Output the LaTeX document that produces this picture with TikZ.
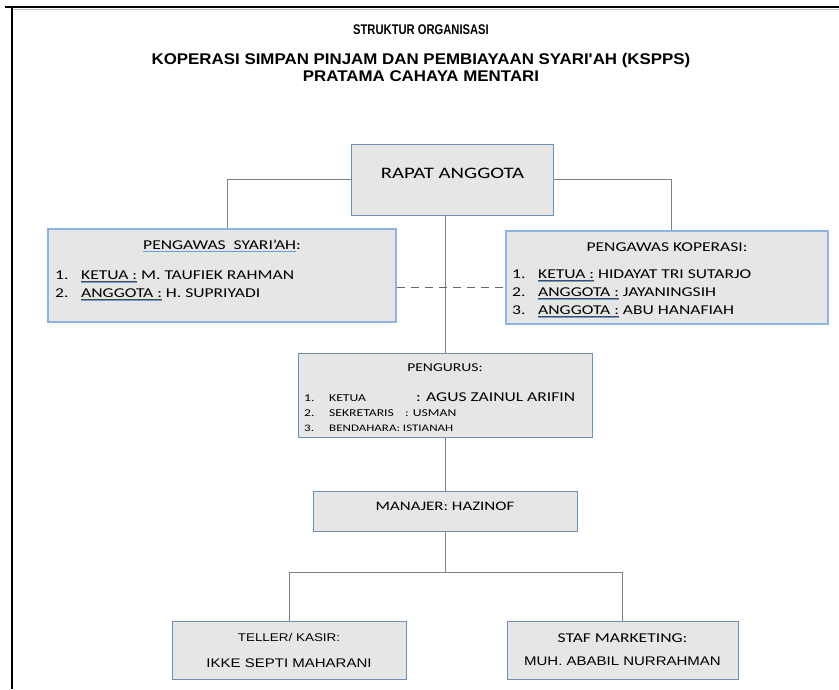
\documentclass[tikz,border=0pt]{standalone}
\usepackage{fontspec}
\setmainfont[FakeStretch=1.3]{Carlito}
\newfontfamily\arialfont[FakeStretch=1.2]{Liberation Sans}
\newfontfamily\headfont[FakeStretch=0.8]{Liberation Sans}
\newfontfamily\subheadfont[FakeStretch=1.09]{Liberation Sans}
\usepackage{xcolor}
\definecolor{boxfill}{HTML}{E6E6E6}
\definecolor{boxline}{HTML}{6F8FB5}
\definecolor{pawline}{HTML}{8DB4E2}
\definecolor{linkgray}{HTML}{808080}
\definecolor{ulblue}{HTML}{6A9BE0}
\newcommand\spellul[1]{\setbox0\hbox{#1}\rlap{\color{ulblue}\rule[-2.6pt]{\wd0}{0.9pt}}\box0\relax}
\newcommand\keyul[1]{\setbox0\hbox{#1}\rlap{\color{black!70}\rule[-1.6pt]{\wd0}{0.5pt}}\rlap{\color{ulblue}\rule[-2.9pt]{\wd0}{0.8pt}}\box0\relax}
\newcommand\fsz[1]{\fontsize{#1}{#1}\selectfont}

\begin{document}
\begin{tikzpicture}[x=1pt, y=-1pt,
  unit/.style={rectangle, draw=boxline, fill=boxfill, line width=0.9pt, inner sep=0pt},
  pawbox/.style={unit, draw=pawline, line width=1.5pt},
  item/.style={anchor=west, inner sep=0pt, font=\fsz{13.5}},
  link/.style={line width=0.9pt, draw=linkgray},
  dashlink/.style={link, draw=black!60, dash pattern=on 8pt off 6pt}
]
\useasboundingbox (0,0) rectangle (839,689);
% page frame
\draw[line width=1.5pt] (5,7) -- (839,7);
\draw[line width=1.2pt, black!25] (13,9.5) -- (839,9.5);
\draw[line width=2.4pt] (12,7) -- (12,689);
% heading
\node[font=\headfont\bfseries\fsz{14}] (title) at (421,30) {STRUKTUR ORGANISASI};
\node[font=\subheadfont\bfseries\fontsize{15.5}{17}\selectfont, align=center] (subtitle) at (421,67.5) {KOPERASI SIMPAN PINJAM DAN PEMBIAYAAN SYARI'AH (KSPPS)\\PRATAMA CAHAYA MENTARI};
% boxes
\node[unit, minimum width=202, minimum height=71, font=\fsz{16}, text height=10.5pt, text depth=13pt] (rapat) at (452.5,179.5) {RAPAT ANGGOTA};
\node[pawbox, minimum width=348, minimum height=93] (syariah) at (222,275.5) {};
\node[pawbox, minimum width=322, minimum height=93] (koperasi) at (667,277.5) {};
\node[unit, minimum width=294, minimum height=84] (pengurus) at (445,395) {};
\node[unit, minimum width=264, minimum height=40, font=\fsz{13}, text height=9pt, text depth=10pt] (manajer) at (445,511) {MANAJER: HAZINOF};
\node[unit, minimum width=234, minimum height=58, align=center, font=\arialfont\fontsize{12.5}{26}\selectfont] (teller) at (289,650) {{\fsz{11.2}TELLER/ KASIR:}\\IKKE SEPTI MAHARANI};
\node[unit, minimum width=231, minimum height=58, align=center] (staf) at (622.5,650) {{\fsz{13.5}STAF MARKETING:}\\[11pt]{\arialfont\fsz{12.5}MUH. ABABIL NURRAHMAN}};
% box texts
\node[font=\fsz{13.5}] (syariahT) at (222,246) {\spellul{PENGAWAS\ \ SYARI'AH}:};
\node[item] (syariah1) at (55,277) {\makebox[26pt][l]{1.}\keyul{KETUA :} M. TAUFIEK RAHMAN};
\node[item] (syariah2) at (55,295) {\makebox[26pt][l]{2.}\keyul{ANGGOTA :} H. SUPRIYADI};
\node[font=\fsz{13.5}] (koperasiT) at (667,247) {PENGAWAS KOPERASI:};
\node[item] (koperasi1) at (512,276) {\makebox[26pt][l]{1.}\keyul{KETUA :} HIDAYAT TRI SUTARJO};
\node[item] (koperasi2) at (512,294) {\makebox[26pt][l]{2.}\keyul{ANGGOTA :} JAYANINGSIH};
\node[item] (koperasi3) at (512,312) {\makebox[26pt][l]{3.}\keyul{ANGGOTA :} ABU HANAFIAH};
\node[font=\fsz{12}] (pengurusT) at (445,368) {PENGURUS:};
\node[item, font=\fsz{10.5}] (pengurus1) at (304,397) {\makebox[25pt][l]{1.}\makebox[87pt][l]{KETUA}{\fsz{13.5}: AGUS ZAINUL ARIFIN}};
\node[item, font=\fsz{10.5}] (pengurus2) at (304,413) {\makebox[25pt][l]{2.}\makebox[76pt][l]{SEKRETARIS}: USMAN};
\node[item, font=\fsz{10}] (pengurus3) at (304,428) {\makebox[25pt][l]{3.}BENDAHARA: ISTIANAH};
% connectors
\draw[link] (rapat.west) -| ([xshift=5]syariah.north);
\draw[link] (rapat.east) -| ([xshift=4]koperasi.north);
\draw[link] (pengurus.north) -- (pengurus.north |- rapat.south);
\draw[dashlink] ([yshift=-11.5]syariah.east) -- ([yshift=-11.5]syariah.east -| koperasi.west);
\draw[link] (pengurus.south) -- (manajer.north);
\coordinate (split) at (445,572);
\draw[link] (manajer.south) -- (split);
\draw[link] (split) -| (teller.north);
\draw[link] (split) -| (staf.north);
\end{tikzpicture}
\end{document}
